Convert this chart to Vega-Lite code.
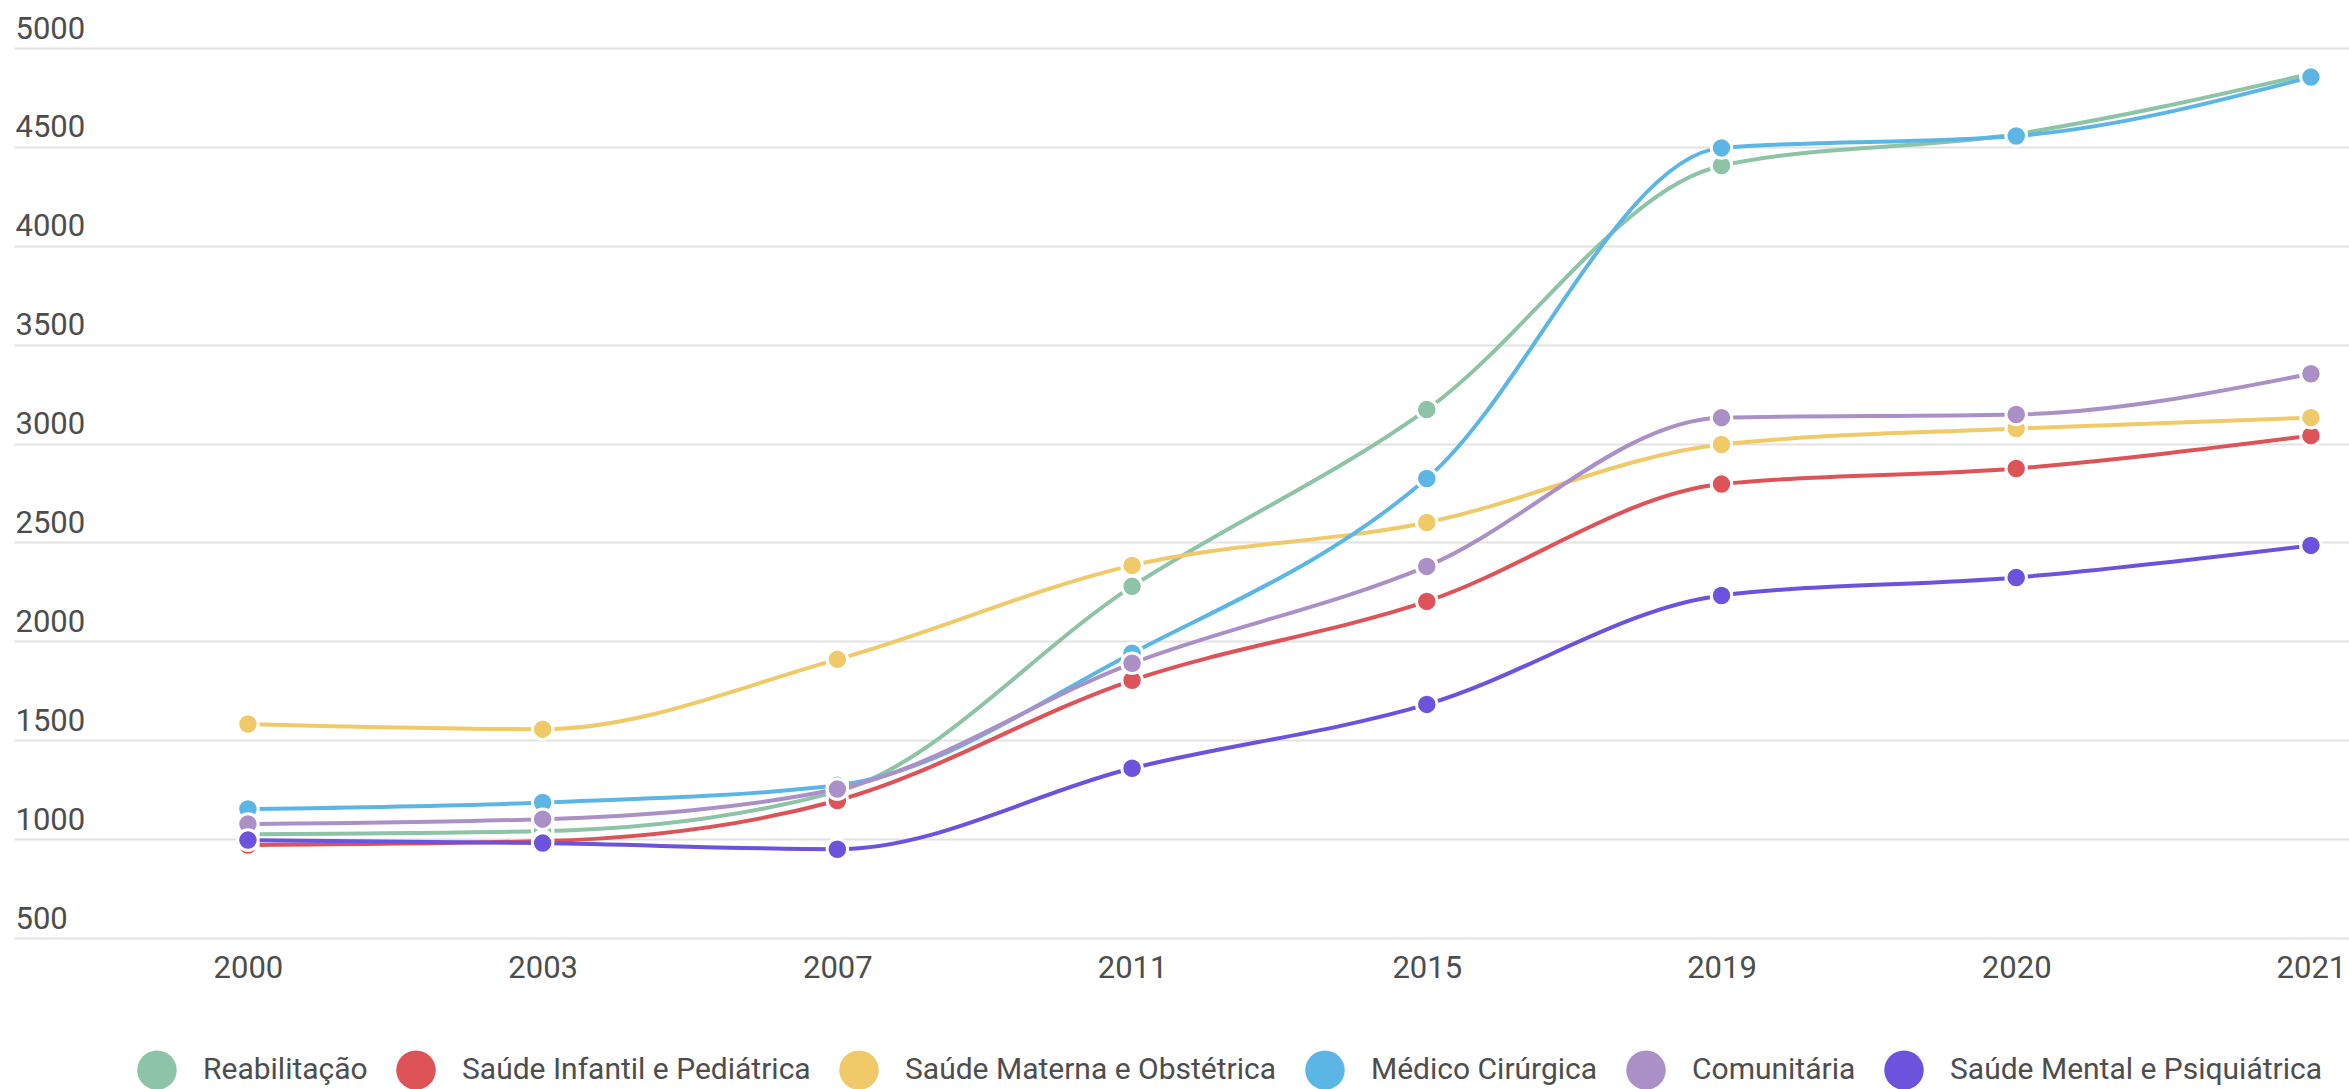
{
  "$schema": "https://vega.github.io/schema/vega-lite/v6.json",
  "autosize": {"type": "none"},
  "padding": {"left": 14, "top": 48, "right": 0, "bottom": 151},
  "width": 2335,
  "height": 890,
  "background": "white",
  "config": {
    "view": {"stroke": null},
    "font": "Roboto"
  },
  "data": {
    "values": [
      {"year": "2000", "series": "Reabilitação", "value": 1025},
      {"year": "2003", "series": "Reabilitação", "value": 1040},
      {"year": "2007", "series": "Reabilitação", "value": 1240},
      {"year": "2011", "series": "Reabilitação", "value": 2278},
      {"year": "2015", "series": "Reabilitação", "value": 3172},
      {"year": "2019", "series": "Reabilitação", "value": 4405},
      {"year": "2020", "series": "Reabilitação", "value": 4565},
      {"year": "2021", "series": "Reabilitação", "value": 4870},
      {"year": "2000", "series": "Saúde Infantil e Pediátrica", "value": 970},
      {"year": "2003", "series": "Saúde Infantil e Pediátrica", "value": 990},
      {"year": "2007", "series": "Saúde Infantil e Pediátrica", "value": 1195},
      {"year": "2011", "series": "Saúde Infantil e Pediátrica", "value": 1803},
      {"year": "2015", "series": "Saúde Infantil e Pediátrica", "value": 2202},
      {"year": "2019", "series": "Saúde Infantil e Pediátrica", "value": 2795},
      {"year": "2020", "series": "Saúde Infantil e Pediátrica", "value": 2874},
      {"year": "2021", "series": "Saúde Infantil e Pediátrica", "value": 3040},
      {"year": "2000", "series": "Saúde Materna e Obstétrica", "value": 1582},
      {"year": "2003", "series": "Saúde Materna e Obstétrica", "value": 1556},
      {"year": "2007", "series": "Saúde Materna e Obstétrica", "value": 1909},
      {"year": "2011", "series": "Saúde Materna e Obstétrica", "value": 2384},
      {"year": "2015", "series": "Saúde Materna e Obstétrica", "value": 2601},
      {"year": "2019", "series": "Saúde Materna e Obstétrica", "value": 2995},
      {"year": "2020", "series": "Saúde Materna e Obstétrica", "value": 3076},
      {"year": "2021", "series": "Saúde Materna e Obstétrica", "value": 3131},
      {"year": "2000", "series": "Médico Cirúrgica", "value": 1152},
      {"year": "2003", "series": "Médico Cirúrgica", "value": 1185},
      {"year": "2007", "series": "Médico Cirúrgica", "value": 1272},
      {"year": "2011", "series": "Médico Cirúrgica", "value": 1940},
      {"year": "2015", "series": "Médico Cirúrgica", "value": 2823},
      {"year": "2019", "series": "Médico Cirúrgica", "value": 4495},
      {"year": "2020", "series": "Médico Cirúrgica", "value": 4555},
      {"year": "2021", "series": "Médico Cirúrgica", "value": 4853},
      {"year": "2000", "series": "Comunitária", "value": 1076},
      {"year": "2003", "series": "Comunitária", "value": 1101},
      {"year": "2007", "series": "Comunitária", "value": 1253},
      {"year": "2011", "series": "Comunitária", "value": 1889},
      {"year": "2015", "series": "Comunitária", "value": 2379},
      {"year": "2019", "series": "Comunitária", "value": 3131},
      {"year": "2020", "series": "Comunitária", "value": 3147},
      {"year": "2021", "series": "Comunitária", "value": 3353},
      {"year": "2000", "series": "Saúde Mental e Psiquiátrica", "value": 995},
      {"year": "2003", "series": "Saúde Mental e Psiquiátrica", "value": 980},
      {"year": "2007", "series": "Saúde Mental e Psiquiátrica", "value": 949},
      {"year": "2011", "series": "Saúde Mental e Psiquiátrica", "value": 1358},
      {"year": "2015", "series": "Saúde Mental e Psiquiátrica", "value": 1681},
      {"year": "2019", "series": "Saúde Mental e Psiquiátrica", "value": 2232},
      {"year": "2020", "series": "Saúde Mental e Psiquiátrica", "value": 2323},
      {"year": "2021", "series": "Saúde Mental e Psiquiátrica", "value": 2485}
    ]
  },
  "encoding": {
    "x": {
      "field": "year",
      "type": "ordinal",
      "sort": null,
      "scale": {"type": "point", "padding": 0.4615, "align": 0.86},
      "axis": {
        "title": null,
        "domain": false,
        "ticks": false,
        "tickSize": 0,
        "grid": false,
        "labelAngle": 0,
        "labelFont": "Roboto",
        "labelFontSize": 31,
        "labelColor": "#4d4d4d",
        "labelBaseline": "alphabetic",
        "labelPadding": 39
      }
    },
    "y": {
      "field": "value",
      "type": "quantitative",
      "scale": {"domain": [500, 5000], "nice": false, "zero": false},
      "axis": {
        "title": null,
        "values": [500, 1000, 1500, 2000, 2500, 3000, 3500, 4000, 4500, 5000],
        "format": "d",
        "domain": false,
        "ticks": false,
        "tickSize": 0,
        "grid": true,
        "gridColor": "#e2e2e2",
        "gridWidth": 2,
        "labelAlign": "left",
        "labelBaseline": "alphabetic",
        "labelOffset": -10,
        "labelPadding": -1,
        "labelFont": "Roboto",
        "labelFontSize": 31,
        "labelColor": "#4d4d4d"
      }
    },
    "color": {
      "field": "series",
      "type": "nominal",
      "scale": {
        "domain": ["Reabilitação", "Saúde Infantil e Pediátrica", "Saúde Materna e Obstétrica", "Médico Cirúrgica", "Comunitária", "Saúde Mental e Psiquiátrica"],
        "range": ["#8dc3a6", "#dd5357", "#f0c969", "#5cb6e5", "#ab90c7", "#6c52dc"]
      },
      "legend": {
        "title": null,
        "orient": "none",
        "direction": "horizontal",
        "legendX": 123,
        "legendY": 1002,
        "padding": 0,
        "symbolType": "circle",
        "symbolSize": 1560,
        "symbolStrokeWidth": 0,
        "symbolOpacity": 1,
        "labelFont": "Roboto",
        "labelFontSize": 30,
        "labelColor": "#4d4d4d",
        "labelOffset": 26,
        "labelLimit": 1000,
        "columnPadding": 28
      }
    }
  },
  "layer": [
    {
      "mark": {"type": "line", "strokeWidth": 4, "interpolate": "monotone"}
    },
    {
      "mark": {"type": "point", "filled": true, "size": 420, "stroke": "white", "strokeWidth": 3, "opacity": 1}
    }
  ]
}
